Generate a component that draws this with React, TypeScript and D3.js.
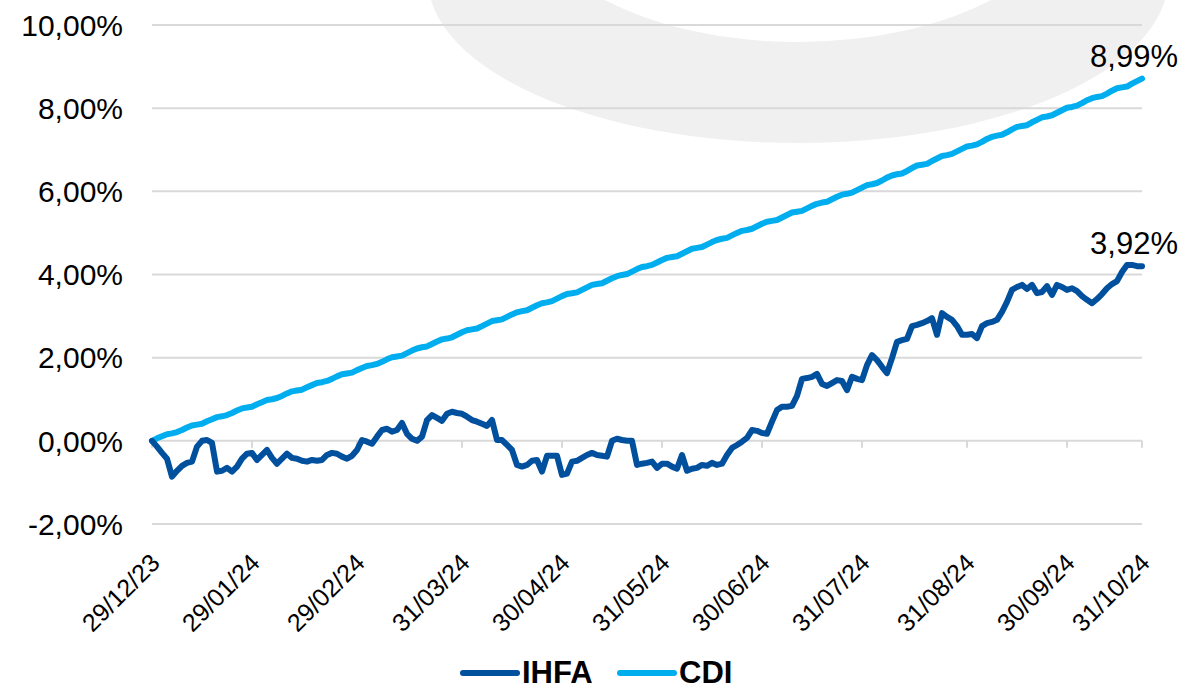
import React, { useEffect, useRef } from 'react';
import * as d3 from 'd3';

const xTickLabels = ['29/12/23', '29/01/24', '29/02/24', '31/03/24', '30/04/24', '31/05/24', '30/06/24', '31/07/24', '31/08/24', '30/09/24', '31/10/24'];
const xTickIdx = [0, 20, 41, 62, 82, 102, 122, 142, 163, 183, 198];
const yTicks = [-2, 0, 2, 4, 6, 8, 10];

const seriesNames = ['IHFA', 'CDI'];
const endLabels = ['3,92%', '8,99%'];

const ihfa = [
  0.00, -0.14, -0.29, -0.43, -0.86, -0.72, -0.60, -0.53, -0.50, -0.14,
  0.00, 0.02, -0.05, -0.74, -0.72, -0.65, -0.74, -0.62, -0.43, -0.31,
  -0.29, -0.46, -0.34, -0.22, -0.41, -0.55, -0.43, -0.31, -0.41, -0.43,
  -0.48, -0.50, -0.46, -0.48, -0.46, -0.34, -0.29, -0.31, -0.38, -0.43,
  -0.36, -0.22, 0.02, -0.02, -0.07, 0.10, 0.26, 0.29, 0.22, 0.26,
  0.43, 0.17, 0.05, 0.00, 0.10, 0.50, 0.62, 0.55, 0.48, 0.65,
  0.70, 0.67, 0.65, 0.58, 0.50, 0.46, 0.41, 0.36, 0.50, 0.02,
  0.02, -0.10, -0.22, -0.58, -0.62, -0.58, -0.48, -0.46, -0.74, -0.36,
  -0.36, -0.36, -0.82, -0.79, -0.50, -0.48, -0.41, -0.34, -0.29, -0.34,
  -0.36, -0.38, 0.00, 0.05, 0.02, 0.00, 0.00, -0.58, -0.55, -0.53,
  -0.50, -0.65, -0.55, -0.55, -0.62, -0.67, -0.34, -0.72, -0.67, -0.65,
  -0.58, -0.60, -0.53, -0.58, -0.55, -0.34, -0.17, -0.10, -0.02, 0.07,
  0.26, 0.24, 0.19, 0.17, 0.46, 0.74, 0.82, 0.82, 0.84, 1.08,
  1.49, 1.51, 1.54, 1.61, 1.37, 1.32, 1.39, 1.46, 1.44, 1.22,
  1.54, 1.49, 1.46, 1.82, 2.06, 1.94, 1.78, 1.63, 1.99, 2.38,
  2.42, 2.45, 2.76, 2.79, 2.83, 2.88, 2.95, 2.55, 3.07, 2.98,
  2.91, 2.76, 2.55, 2.55, 2.57, 2.47, 2.76, 2.83, 2.86, 2.91,
  3.10, 3.34, 3.63, 3.70, 3.75, 3.65, 3.75, 3.55, 3.58, 3.72,
  3.51, 3.75, 3.70, 3.63, 3.67, 3.60, 3.48, 3.39, 3.31, 3.41,
  3.53, 3.67, 3.77, 3.84, 4.06, 4.23, 4.23, 4.20, 4.20,
];

const cdi = [
  0.00, 0.06, 0.11, 0.16, 0.18, 0.21, 0.26, 0.32, 0.37, 0.39,
  0.41, 0.47, 0.52, 0.57, 0.59, 0.62, 0.67, 0.73, 0.78, 0.80,
  0.82, 0.88, 0.93, 0.98, 1.00, 1.03, 1.08, 1.14, 1.19, 1.21,
  1.23, 1.29, 1.34, 1.39, 1.41, 1.44, 1.49, 1.55, 1.60, 1.62,
  1.64, 1.70, 1.75, 1.80, 1.82, 1.85, 1.90, 1.96, 2.01, 2.03,
  2.05, 2.11, 2.17, 2.22, 2.25, 2.27, 2.33, 2.39, 2.44, 2.46,
  2.49, 2.55, 2.61, 2.66, 2.68, 2.70, 2.76, 2.82, 2.88, 2.90,
  2.92, 2.98, 3.04, 3.09, 3.12, 3.14, 3.20, 3.26, 3.31, 3.33,
  3.36, 3.42, 3.48, 3.53, 3.55, 3.57, 3.63, 3.69, 3.75, 3.77,
  3.79, 3.85, 3.91, 3.96, 3.99, 4.01, 4.07, 4.13, 4.18, 4.20,
  4.23, 4.29, 4.35, 4.40, 4.42, 4.44, 4.50, 4.56, 4.62, 4.64,
  4.66, 4.72, 4.78, 4.83, 4.86, 4.88, 4.94, 5.00, 5.05, 5.07,
  5.10, 5.16, 5.22, 5.27, 5.29, 5.31, 5.37, 5.43, 5.49, 5.51,
  5.53, 5.59, 5.65, 5.70, 5.73, 5.75, 5.81, 5.87, 5.92, 5.94,
  5.97, 6.03, 6.09, 6.15, 6.17, 6.20, 6.26, 6.33, 6.38, 6.41,
  6.43, 6.49, 6.56, 6.62, 6.64, 6.66, 6.73, 6.79, 6.85, 6.87,
  6.90, 6.96, 7.02, 7.08, 7.10, 7.13, 7.19, 7.26, 7.31, 7.34,
  7.36, 7.42, 7.49, 7.55, 7.57, 7.59, 7.66, 7.72, 7.78, 7.80,
  7.83, 7.89, 7.95, 8.01, 8.03, 8.06, 8.12, 8.19, 8.24, 8.27,
  8.29, 8.35, 8.42, 8.48, 8.50, 8.52, 8.59, 8.65, 8.71,
];

const colors = ['#00509E', '#00AEEF'];
const FONT = '"Liberation Sans", Arial, sans-serif';

const Chart = ({ width, height }: { width: number; height: number }) => {
  const ref = useRef<SVGSVGElement>(null);

  useEffect(() => {
    const svg = d3.select(ref.current).attr('width', width).attr('height', height);
    svg.selectAll('*').remove();

    const left = 152;
    const right = 1142;
    const top = 25;
    const bottom = 524;

    const x = d3.scaleLinear().domain([0, ihfa.length - 1]).range([left, right]);
    const y = d3.scaleLinear().domain([-2, 10]).range([bottom, top]);

    const locale = d3.formatLocale({ decimal: ',', thousands: '.', grouping: [3], currency: ['R$', ''], minus: '-' });
    const fmt = (v: number) => locale.format('.2f')(v) + '%';

    // logo watermark
    svg.append('ellipse')
      .attr('cx', 798).attr('cy', -21).attr('rx', 370).attr('ry', 164)
      .attr('fill', '#F0F0F0');
    svg.append('ellipse')
      .attr('cx', 798).attr('cy', -110).attr('rx', 280).attr('ry', 152)
      .attr('fill', '#FFFFFF');

    // grid
    svg.append('g')
      .selectAll('line')
      .data(yTicks)
      .join('line')
      .attr('x1', left).attr('x2', right)
      .attr('y1', d => y(d)).attr('y2', d => y(d))
      .attr('stroke', '#D9D9D9')
      .attr('stroke-width', 2);

    svg.append('g')
      .selectAll('text')
      .data(yTicks)
      .join('text')
      .attr('x', 123)
      .attr('y', d => y(d))
      .attr('dy', '0.36em')
      .attr('text-anchor', 'end')
      .style('font-family', FONT)
      .style('font-size', '30px')
      .attr('fill', '#000')
      .text(d => fmt(d));

    // category ticks on the zero line
    svg.append('g')
      .selectAll('line')
      .data(xTickIdx)
      .join('line')
      .attr('x1', d => x(d)).attr('x2', d => x(d))
      .attr('y1', y(0)).attr('y2', y(0) + 7)
      .attr('stroke', '#D9D9D9')
      .attr('stroke-width', 2);

    svg.append('g')
      .selectAll('text')
      .data(xTickIdx)
      .join('text')
      .attr('transform', d => `translate(${x(d) + 3},558) rotate(-45)`)
      .attr('text-anchor', 'end')
      .attr('dy', '0.36em')
      .style('font-family', FONT)
      .style('font-size', '25px')
      .attr('fill', '#000')
      .text((d, i) => xTickLabels[i]);

    const line = d3.line<number>()
      .x((d, i) => x(i))
      .y(d => y(d));

    const series = [ihfa, cdi];
    [1, 0].forEach(k => {
      svg.append('path')
        .datum(series[k])
        .attr('fill', 'none')
        .attr('stroke', colors[k])
        .attr('stroke-width', 6)
        .attr('stroke-linejoin', 'round')
        .attr('stroke-linecap', 'round')
        .attr('d', line);
    });

    // end labels
    series.forEach((s, k) => {
      const last = s.length - 1;
      svg.append('text')
        .attr('x', x(last) - 8)
        .attr('y', y(s[last]) - 12)
        .attr('text-anchor', 'middle')
        .style('font-family', FONT)
        .style('font-size', '31px')
        .attr('fill', '#000')
        .text(endLabels[k]);
    });

    // legend
    const legendX = [463, 620];
    seriesNames.forEach((name, k) => {
      const g = svg.append('g').attr('transform', `translate(${legendX[k]},673)`);
      g.append('line')
        .attr('x1', 0).attr('x2', 54)
        .attr('stroke', colors[k])
        .attr('stroke-width', 6)
        .attr('stroke-linecap', 'round');
      g.append('text')
        .attr('x', 59)
        .attr('y', 10)
        .style('font-family', FONT)
        .style('font-size', '31px')
        .style('font-weight', 'bold')
        .attr('fill', '#000')
        .text(name);
    });
  }, [width, height]);

  return <svg ref={ref} style={{ position: 'absolute', left: 0, top: 0 }}></svg>;
};

export default function App() {
  return <Chart width={1186} height={690} />;
}
